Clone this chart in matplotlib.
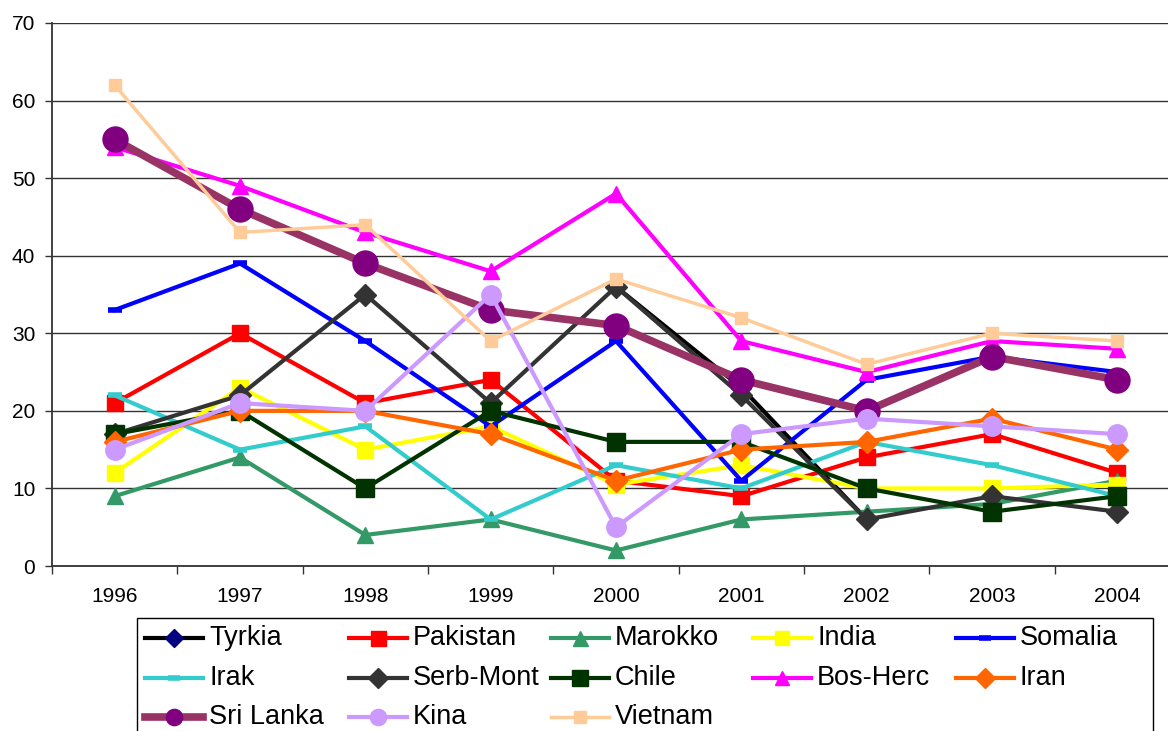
import numpy as np
import matplotlib
matplotlib.use("Agg")
import matplotlib.pyplot as plt
from matplotlib.lines import Line2D
from matplotlib.patches import Rectangle

years = ["1996", "1997", "1998", "1999", "2000", "2001", "2002", "2003", "2004"]
nan = np.nan
tyrkia    = [nan, nan, nan, nan, 36, 23, 6, nan, nan]
pakistan  = [21, 30, 21, 24, 11, 9, 14, 17, 12]
marokko   = [9, 14, 4, 6, 2, 6, 7, 8, 11]
india     = [12, 23, 15, 18, 10.5, 13, 10, 10, 10.5]
somalia   = [33, 39, 29, 18, 29, 11, 24, 27, 25]
irak      = [22, 15, 18, 6, 13, 10, 16, 13, 9]
serbmont  = [17, 22, 35, 21, 36, 22, 6, 9, 7]
chile     = [17, 20, 10, 20, 16, 16, 10, 7, 9]
bosherc   = [54, 49, 43, 38, 48, 29, 25, 29, 28]
iran      = [16, 20, 20, 17, 11, 15, 16, 19, 15]
srilanka  = [55, 46, 39, 33, 31, 24, 20, 27, 24]
kina      = [15, 21, 20, 35, 5, 17, 19, 18, 17]
vietnam   = [62, 43, 44, 29, 37, 32, 26, 30, 29]

series = [
    ("Tyrkia", tyrkia, dict(color="#000000", marker="D", mfc="#000080", mec="#000080", ms=10, lw=3)),
    ("Pakistan", pakistan, dict(color="#FF0000", marker="s", mfc="#FF0000", mec="#FF0000", ms=12, lw=3)),
    ("Marokko", marokko, dict(color="#339966", marker="^", mfc="#339966", mec="#339966", ms=12, lw=3)),
    ("India", india, dict(color="#FFFF00", marker="s", mfc="#FFFF00", mec="#FFFF00", ms=11, lw=3)),
    ("Somalia", somalia, dict(color="#0000FF", marker="_", mfc="#0000FF", mec="#0000FF", ms=10, mew=4, lw=3)),
    ("Irak", irak, dict(color="#33CCCC", marker="_", mfc="#33CCCC", mec="#33CCCC", ms=10, mew=4, lw=3)),
    ("Serb-Mont", serbmont, dict(color="#333333", marker="D", mfc="#333333", mec="#333333", ms=11, lw=3)),
    ("Chile", chile, dict(color="#003300", marker="s", mfc="#003300", mec="#003300", ms=13, lw=3)),
    ("Bos-Herc", bosherc, dict(color="#FF00FF", marker="^", mfc="#FF00FF", mec="#FF00FF", ms=11, lw=3)),
    ("Iran", iran, dict(color="#FF6600", marker="D", mfc="#FF6600", mec="#FF6600", ms=11, lw=3)),
    ("Sri Lanka", srilanka, dict(color="#993366", marker="o", mfc="#800080", mec="#800080", ms=18, lw=5.5)),
    ("Kina", kina, dict(color="#CC99FF", marker="o", mfc="#CC99FF", mec="#CC99FF", ms=14, lw=3)),
    ("Vietnam", vietnam, dict(color="#FFCC99", marker="s", mfc="#FFCC99", mec="#FFCC99", ms=9, lw=2.5)),
]

plt.rcParams['font.family'] = ['Liberation Sans', 'DejaVu Sans']
W, H = 1168, 731
fig = plt.figure(figsize=(W / 100, H / 100), dpi=100)
fig.patch.set_facecolor("white")

left_px, right_px, top_px, bot_px = 52, 1180, 23, 566
ax = fig.add_axes([left_px / W, 1 - bot_px / H, (right_px - left_px) / W, (bot_px - top_px) / H])

x = np.arange(len(years))
for name, vals, st in series:
    ax.plot(x, vals, label=name, solid_joinstyle="miter", **st)

ax.set_xlim(-0.5, len(years) - 0.5)
ax.set_ylim(0, 70)
ax.set_yticks(np.arange(0, 71, 10))
ax.set_xticks(x)
ax.set_xticklabels(years)
ax.set_xticks(np.arange(-0.5, len(years), 1), minor=True)
ax.tick_params(axis="x", which="major", length=0, pad=15, labelsize=15)
ax.tick_params(axis="x", which="minor", length=6, width=1, color="#333333", direction="out")
ax.tick_params(axis="y", length=5, width=1, color="#333333", direction="out", labelsize=15, pad=7)
ax.yaxis.grid(True, color="#333333", lw=1)
ax.set_axisbelow(True)
for s in ["top", "right"]:
    ax.spines[s].set_visible(False)
ax.spines["left"].set_color("#333333")
ax.spines["bottom"].set_color("#333333")
ax.spines["left"].set_linewidth(1.3)
ax.spines["bottom"].set_linewidth(1.3)

# Legend, Excel style with equal column widths
fig.add_artist(Rectangle((137 / W, -0.05), (1153 - 137) / W, (1 - 618 / H) + 0.05,
                         transform=fig.transFigure, fill=False, ec="#000000", lw=1))
col_x = [145, 349, 551, 753, 956]
row_y = [638, 678, 717]
for i, (name, vals, st) in enumerate(series):
    r, c = divmod(i, 5)
    x0 = col_x[c]
    y0 = 1 - row_y[r] / H
    kw = dict(st)
    ms = kw.pop("ms")
    ln = Line2D([x0 / W, (x0 + 58) / W], [y0, y0], transform=fig.transFigure,
                color=kw["color"], lw=kw["lw"])
    fig.add_artist(ln)
    mk = Line2D([(x0 + 29) / W], [y0], transform=fig.transFigure, linestyle="none",
                marker=kw["marker"], mfc=kw["mfc"], mec=kw["mec"], ms=min(ms, 13) * 0.9,
                mew=kw.get("mew", 1))
    fig.add_artist(mk)
    fig.text((x0 + 64) / W, y0, name, fontsize=19.5, va="center", ha="left")

fig.savefig("out.png", dpi=100)
